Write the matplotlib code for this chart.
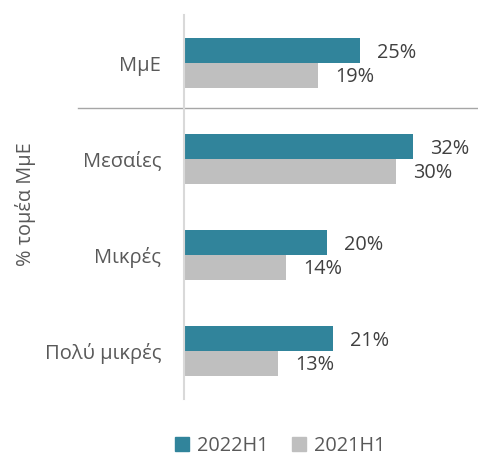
import numpy as np
import matplotlib.pyplot as plt
from matplotlib.patches import Patch

plt.rcParams['font.family'] = ['Open Sans', 'DejaVu Sans']

# Data
categories = ["ΜμΕ", "Μεσαίες", "Μικρές", "Πολύ μικρές"]
values_2022 = [24.9, 32.3, 20.2, 21.0]
values_2021 = [18.9, 29.9, 14.4, 13.3]
series_names = ["2022H1", "2021H1"]
colors = ["#31849B", "#BFBFBF"]

fig = plt.figure(figsize=(4.78, 4.58), dpi=100)
W, H = 478, 458
ax = fig.add_axes([184 / W, 1 - 399 / H, (W - 184) / W, 384 / H])

y = np.arange(len(categories))
h = 0.26
ax.barh(y - h / 2, values_2022, height=h, color=colors[0])
ax.barh(y + h / 2, values_2021, height=h, color=colors[1])

# value labels
for yy, v in zip(y - h / 2, values_2022):
    ax.annotate(f"{v:.0f}%", (v, yy), xytext=(17, -2), textcoords="offset pixels",
                va="center", ha="left", fontsize=14.3, color="#404040")
for yy, v in zip(y + h / 2, values_2021):
    ax.annotate(f"{v:.0f}%", (v, yy), xytext=(17, -2), textcoords="offset pixels",
                va="center", ha="left", fontsize=14.3, color="#404040")

ax.set_xlim(0, 41.5)
ax.set_ylim(3.5, -0.5)
ax.set_yticks(y)
ax.set_yticklabels(categories, fontsize=14.5, color="#595959")
ax.tick_params(axis="y", length=0, pad=16.5)
ax.set_xticks([])

for s in ["top", "right", "bottom"]:
    ax.spines[s].set_visible(False)
ax.spines["left"].set_color("#D9D9D9")
ax.spines["left"].set_linewidth(1.5)

# separator between the total and the size classes
ax.plot([-106 / 7.08, 41.5], [0.47, 0.47], color="#A6A6A6", lw=1.0,
        clip_on=False)

fig.text(25 / W, 1 - 204 / H, "% τομέα ΜμΕ", rotation=90, ha="center",
         va="center", fontsize=14.3, color="#595959")

handles = [Patch(color=c) for c in colors]
fig.legend(handles, series_names, loc="center", bbox_to_anchor=(280 / W, 1 - 446 / H),
           ncol=2, frameon=False, fontsize=14.3, handlelength=0.7, handleheight=0.7,
           handletextpad=0.4, columnspacing=1.2, labelcolor="#595959",
           borderpad=0.1)

fig.savefig("out.png", dpi=100)
